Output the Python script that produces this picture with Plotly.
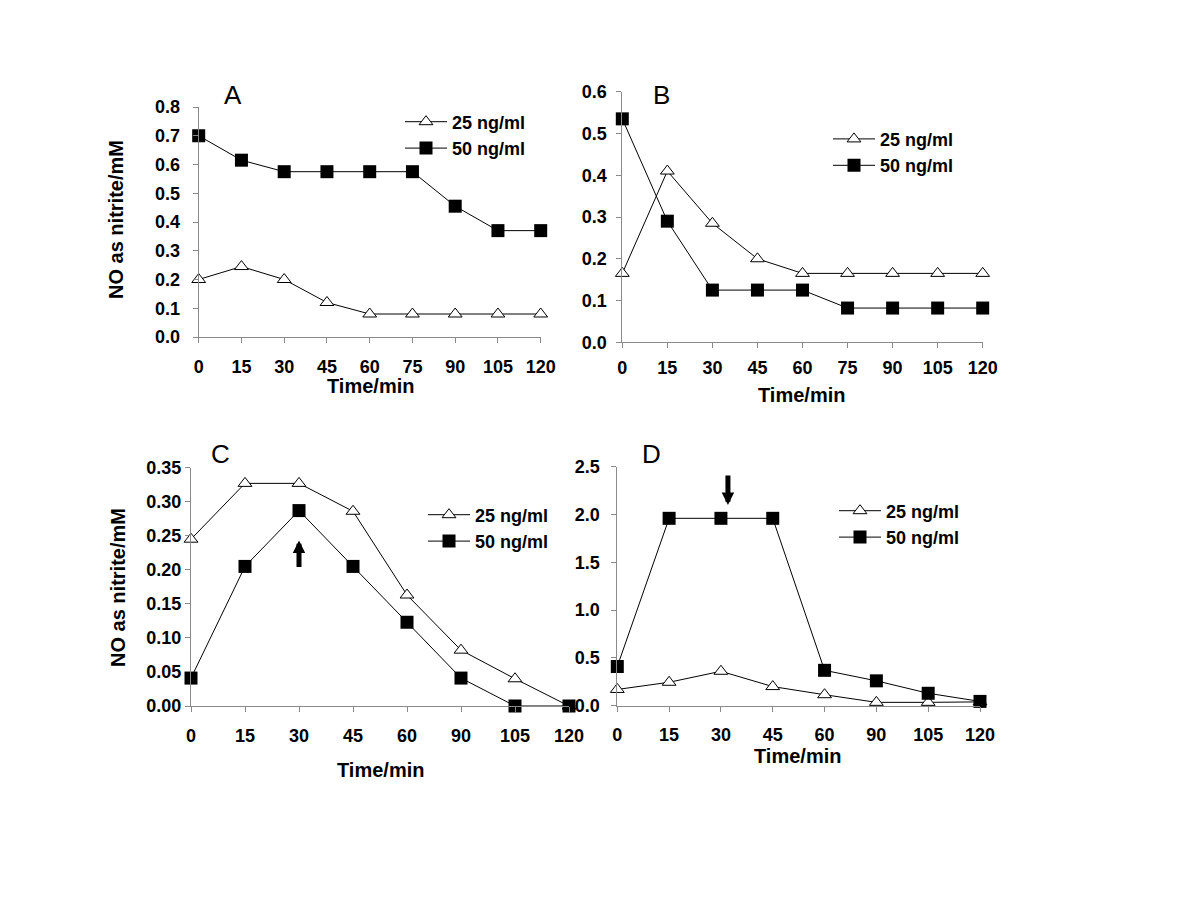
import plotly.graph_objects as go

# ---------------- data ----------------
times_ab = ["0", "15", "30", "45", "60", "75", "90", "105", "120"]
times_cd = ["0", "15", "30", "45", "60", "90", "105", "120"]

a_25 = [0.20, 0.245, 0.20, 0.12, 0.08, 0.08, 0.08, 0.08, 0.08]
a_50 = [0.70, 0.615, 0.575, 0.575, 0.575, 0.575, 0.455, 0.37, 0.37]

b_25 = [0.165, 0.41, 0.285, 0.20, 0.165, 0.165, 0.165, 0.165, 0.165]
b_50 = [0.535, 0.29, 0.125, 0.125, 0.125, 0.082, 0.082, 0.082, 0.082]

c_25 = [0.245, 0.327, 0.327, 0.286, 0.163, 0.082, 0.04, 0.0]
c_50 = [0.041, 0.205, 0.287, 0.205, 0.123, 0.041, 0.0, 0.0]

d_25 = [0.17, 0.245, 0.36, 0.20, 0.115, 0.035, 0.035, 0.04]
d_50 = [0.41, 1.96, 1.96, 1.96, 0.37, 0.26, 0.13, 0.045]

series_names = ["25 ng/ml", "50 ng/ml"]
panel_letters = ["A", "B", "C", "D"]
x_title = "Time/min"
y_title = "NO as nitrite/mM"

W, H = 1200, 900
OFF = 8  # page body margin in the browser
FONT = "Liberation Sans, Arial, sans-serif"


def px_x(p):
    return (p - OFF) / W


def px_y(p):
    return 1 - (p - OFF) / H


panels = [
    dict(t=times_ab, s25=a_25, s50=a_50, xd=(198.7, 540.7), yd=(337, 107), yr=0.8, dt=0.1, fmt=".1f", ys=9, xs=8),
    dict(t=times_ab, s25=b_25, s50=b_50, xd=(622.3, 982.7), yd=(342.3, 91.7), yr=0.6, dt=0.1, fmt=".1f", ys=6, xs=4),
    dict(t=times_cd, s25=c_25, s50=c_50, xd=(191, 569), yd=(706, 467.7), yr=0.35, dt=0.05, fmt=".2f", ys=0, xs=8),
    dict(t=times_cd, s25=d_25, s50=d_50, xd=(617.3, 980), yd=(705.7, 466.7), yr=2.5, dt=0.5, fmt=".1f", ys=8, xs=8),
]

# legend boxes (left px, top px) in reference pixels
legend_pos = [(400, 103.5), (828, 120.7), (423, 496.5), (834, 492.5)]

fig = go.Figure()
layout = dict(
    width=W, height=H,
    margin=dict(l=0, r=0, t=0, b=0, pad=0, autoexpand=False),
    paper_bgcolor="white", plot_bgcolor="white",
    font=dict(family=FONT, color="black"),
    showlegend=True,
)

for i, p in enumerate(panels):
    k = "" if i == 0 else str(i + 1)
    xa, ya = "x" + k, "y" + k
    lg = "legend" + k
    fig.add_trace(go.Scatter(
        x=p["t"], y=p["s25"], xaxis=xa, yaxis=ya, name=series_names[0],
        mode="lines+markers", cliponaxis=False, legend=lg,
        line=dict(color="black", width=1),
        marker=dict(symbol="triangle-up", size=12, color="white",
                    line=dict(color="black", width=1)),
    ))
    fig.add_trace(go.Scatter(
        x=p["t"], y=p["s50"], xaxis=xa, yaxis=ya, name=series_names[1],
        mode="lines+markers", cliponaxis=False, legend=lg,
        line=dict(color="black", width=1),
        marker=dict(symbol="square", size=13, color="black",
                    line=dict(color="black", width=0)),
    ))
    n = len(p["t"])
    layout["xaxis" + k] = dict(
        domain=[px_x(p["xd"][0]), px_x(p["xd"][1])],
        anchor=ya, type="category", range=[0, n - 1],
        showline=True, linecolor="#8a8a8a", linewidth=1,
        ticks="outside", ticklen=5, tickcolor="#8a8a8a",
        showgrid=False, zeroline=False, automargin=False,
        tickfont=dict(size=18, family=FONT, color="black", weight="bold"),
        ticklabelstandoff=p["xs"],
    )
    layout["yaxis" + k] = dict(
        domain=[px_y(p["yd"][0]), px_y(p["yd"][1])],
        anchor=xa, range=[0, p["yr"]], dtick=p["dt"], tick0=0,
        tickformat=p["fmt"],
        showline=True, linecolor="#8a8a8a", linewidth=1,
        ticks="outside", ticklen=5, tickcolor="#8a8a8a",
        showgrid=False, zeroline=False, automargin=False,
        tickfont=dict(size=18, family=FONT, color="black", weight="bold"),
        ticklabelstandoff=p["ys"],
    )
    lx, ly = legend_pos[i]
    layout[lg] = dict(
        x=px_x(lx), y=px_y(ly), xanchor="left", yanchor="top",
        bgcolor="rgba(0,0,0,0)", borderwidth=0,
        font=dict(size=18, family=FONT, color="black", weight="bold"),
        tracegroupgap=0, itemwidth=42,
    )

annotations = []
letter_pos = [(232.7, 95), (661.7, 95), (220.7, 454), (651.7, 454)]
for L, (x, y) in zip(panel_letters, letter_pos):
    annotations.append(dict(text=L, x=px_x(x), y=px_y(y), xref="paper", yref="paper",
                            showarrow=False, xanchor="center", yanchor="middle",
                            font=dict(size=26, family=FONT, color="black")))
xt_pos = [(370, 386), (801.7, 395), (380, 770), (797, 756)]
for (x, y) in xt_pos:
    annotations.append(dict(text=x_title, x=px_x(x), y=px_y(y), xref="paper", yref="paper",
                            showarrow=False, xanchor="center", yanchor="middle",
                            font=dict(size=20, family=FONT, color="black", weight="bold")))
for (x, y) in [(116, 220), (118, 587)]:
    annotations.append(dict(text=y_title, x=px_x(x), y=px_y(y), xref="paper", yref="paper",
                            showarrow=False, xanchor="center", yanchor="middle", textangle=-90,
                            font=dict(size=20, family=FONT, color="black", weight="bold")))
# arrows (panel C up, panel D down) at 30 min
arrow_common = dict(text="", showarrow=True, arrowhead=2, arrowsize=0.5, arrowwidth=5,
                    arrowcolor="black", standoff=0, startstandoff=0,
                    font=dict(size=1), borderpad=0)
annotations.append(dict(x=2, y=0.243, xref="x3", yref="y3", ax=0, ay=27, **arrow_common))
annotations.append(dict(x=2, y=2.10, xref="x4", yref="y4", xshift=7, ax=0, ay=-30, **arrow_common))

layout["annotations"] = annotations
fig.update_layout(**layout)
fig.write_html("out.html")
